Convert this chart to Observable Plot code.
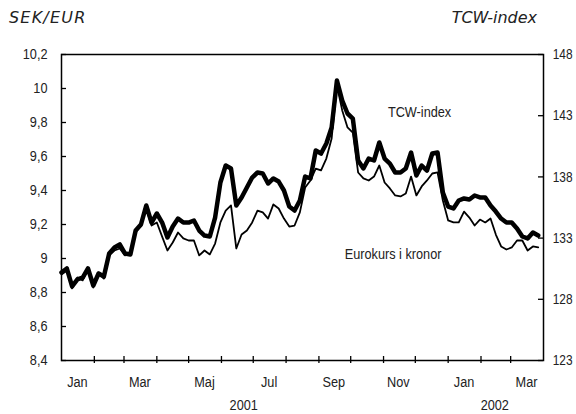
<!DOCTYPE html>
<html><head><meta charset="utf-8">
<script src="https://cdn.jsdelivr.net/npm/d3@7"></script>
<script src="https://cdn.jsdelivr.net/npm/@observablehq/plot@0.6"></script>
<style>
body{margin:0;background:#fff;width:576px;height:414px;overflow:hidden;position:relative;}
.t{position:absolute;top:8px;font-family:"DejaVu Sans",sans-serif;font-style:italic;font-size:16px;color:#222;white-space:nowrap;}
#chart{position:absolute;top:40px;left:0;}
</style></head><body>
<div class="t" style="left:9px;letter-spacing:1.2px">SEK/EUR</div>
<div class="t" style="right:39px">TCW-index</div>
<div id="chart"></div>
<script>
const dates = [
"2001-01-01","2001-01-06","2001-01-11","2001-01-16","2001-01-21","2001-01-26","2001-01-31","2001-02-05","2001-02-10","2001-02-15",
"2001-02-20","2001-02-25","2001-03-02","2001-03-07","2001-03-12","2001-03-17","2001-03-22","2001-03-27","2001-04-01","2001-04-06",
"2001-04-11","2001-04-16","2001-04-21","2001-04-26","2001-05-01","2001-05-06","2001-05-11","2001-05-16","2001-05-21","2001-05-26",
"2001-05-31","2001-06-05","2001-06-10","2001-06-15","2001-06-20","2001-06-25","2001-06-30","2001-07-05","2001-07-10","2001-07-15",
"2001-07-20","2001-07-25","2001-07-30","2001-08-04","2001-08-09","2001-08-14","2001-08-19","2001-08-24","2001-08-29","2001-09-03",
"2001-09-08","2001-09-13","2001-09-18","2001-09-23","2001-09-28","2001-10-03","2001-10-08","2001-10-13","2001-10-18","2001-10-23",
"2001-10-28","2001-11-02","2001-11-07","2001-11-12","2001-11-17","2001-11-22","2001-11-27","2001-12-02","2001-12-07","2001-12-12",
"2001-12-17","2001-12-22","2001-12-27","2002-01-01","2002-01-06","2002-01-11","2002-01-16","2002-01-21","2002-01-26","2002-01-31",
"2002-02-05","2002-02-10","2002-02-15","2002-02-20","2002-02-25","2002-03-02","2002-03-07","2002-03-12","2002-03-17","2002-03-22",
"2002-03-27"];
const tcwIndex = [
130.19,130.52,129.05,129.62,129.78,130.52,129.13,130.11,129.86,131.74,
132.23,132.48,131.74,131.66,133.62,134.11,135.66,134.27,135.01,134.27,
133.05,133.95,134.60,134.27,134.27,134.44,133.62,133.21,133.13,134.68,
137.54,138.93,138.69,135.66,136.32,137.13,137.95,138.36,138.28,137.46,
137.87,137.62,136.89,135.58,135.25,136.07,138.03,137.87,140.16,139.91,
140.73,142.04,145.88,144.24,143.18,142.77,139.34,138.69,139.50,139.34,
140.81,139.50,139.09,138.36,138.36,138.69,139.99,138.11,138.93,138.52,
139.91,139.99,136.73,135.58,135.42,136.07,136.24,136.15,136.48,136.32,
136.32,135.66,135.17,134.60,134.27,134.27,133.78,133.13,132.97,133.46,
133.21];
const eurSek = [
8.906,8.929,8.824,8.888,8.871,8.941,8.829,8.918,8.882,9.018,
9.047,9.059,9.018,9.035,9.153,9.200,9.294,9.194,9.212,9.129,
9.047,9.094,9.153,9.118,9.106,9.106,9.018,9.047,9.024,9.088,
9.212,9.282,9.312,9.059,9.141,9.165,9.212,9.282,9.271,9.235,
9.318,9.294,9.235,9.188,9.194,9.271,9.418,9.459,9.529,9.518,
9.588,9.706,10.018,9.871,9.771,9.741,9.506,9.471,9.459,9.482,
9.547,9.447,9.412,9.371,9.365,9.382,9.482,9.371,9.424,9.459,
9.500,9.506,9.341,9.224,9.212,9.212,9.276,9.241,9.194,9.229,
9.212,9.235,9.141,9.071,9.053,9.065,9.106,9.106,9.047,9.071,
9.065];
const sekTicks = [8.4, 8.6, 8.8, 9, 9.2, 9.4, 9.6, 9.8, 10, 10.2];
const tcwTicks = [123, 128, 133, 138, 143, 148];
const monthLabels = ["Jan","Mar","Maj","Jul","Sep","Nov","Jan","Mar"];
const monthLabelDates = ["2001-01-16","2001-03-16","2001-05-16","2001-07-16","2001-09-15","2001-11-15","2002-01-16","2002-03-16"];
const monthBoundaries = ["2001-02-01","2001-03-01","2001-04-01","2001-05-01","2001-06-01","2001-07-01","2001-08-01","2001-09-01","2001-10-01","2001-11-01","2001-12-01","2002-01-01","2002-02-01","2002-03-01"];
const yearLabels = ["2001","2002"];
const yearLabelDates = ["2001-06-22","2002-02-14"];
const seriesLabels = ["TCW-index","Eurokurs i kronor"];
const seriesLabelDates = ["2001-12-05","2001-11-10"];
const seriesLabelValues = [9.859, 9.029];

const sekMin = 8.4, sekMax = 10.2, tcwMin = 123, tcwMax = 148;
const tcwToSek = t => sekMin + (t - tcwMin) * (sekMax - sekMin) / (tcwMax - tcwMin);

const rows = dates.map((d, i) => ({date: new Date(d), tcw: tcwToSek(tcwIndex[i]), eur: eurSek[i]}));
const months = monthLabels.map((m, i) => ({date: new Date(monthLabelDates[i]), label: m}));
const years = yearLabels.map((y, i) => ({date: new Date(yearLabelDates[i]), label: y}));
const notes = seriesLabels.map((s, i) => ({date: new Date(seriesLabelDates[i]), v: seriesLabelValues[i], label: s}));
const rightTicks = tcwTicks.map(t => ({v: tcwToSek(t), label: String(t)}));

const W = 576, H = 374, mL = 61, mR = 33, mT = 14, mB = 54;
const pw = W - mL - mR, ph = H - mT - mB;
const font = '"Liberation Sans", Arial, sans-serif';

const chart = Plot.plot({
  width: W, height: H,
  marginLeft: mL, marginRight: mR, marginTop: mT, marginBottom: mB,
  style: {fontFamily: font, fontSize: "15.5px", color: "#222", background: "white", overflow: "visible"},
  x: {type: "utc", domain: [new Date("2001-01-01"), new Date("2002-04-01")], axis: null},
  y: {domain: [sekMin, sekMax], axis: null},
  marks: [
    Plot.lineY(rows, {x: "date", y: "tcw", stroke: "black", strokeWidth: 4.5, strokeLinejoin: "round", strokeLinecap: "round"}),
    Plot.lineY(rows, {x: "date", y: "eur", stroke: "black", strokeWidth: 1.8, strokeLinejoin: "round"}),
    Plot.frame({stroke: "black", strokeWidth: 1.5}),
    Plot.tickY(sekTicks, {y: d => d, insetRight: pw - 5, stroke: "black", strokeWidth: 1.3}),
    Plot.tickY(tcwTicks.map(tcwToSek), {y: d => d, insetLeft: pw - 5, stroke: "black", strokeWidth: 1.3}),
    Plot.tickX(monthBoundaries, {x: d => new Date(d), insetTop: ph - 4, insetBottom: -3, stroke: "black", strokeWidth: 1.3}),
    Plot.axisY(sekTicks, {anchor: "left", tickSize: 0, tickPadding: 14, tickFormat: d => String(d).replace(".", ","), fill: "#222"}),
    Plot.text(rightTicks, {y: "v", text: "label", frameAnchor: "right", dx: 29, textAnchor: "end", lineAnchor: "middle", fontSize: 14.5, fill: "#222"}),
    Plot.text(months, {x: "date", text: "label", frameAnchor: "bottom", dy: 22, lineAnchor: "middle", fill: "#222"}),
    Plot.text(years, {x: "date", text: "label", frameAnchor: "bottom", dy: 45, lineAnchor: "middle", fill: "#222"}),
    Plot.text(notes, {x: "date", y: "v", text: "label", lineAnchor: "middle", fill: "#222"})
  ]
});
document.getElementById("chart").appendChild(chart);
// emulate a narrow (condensed) face: squeeze each label to 82% of its width
chart.querySelectorAll("text").forEach(el => {
  const len = el.getComputedTextLength();
  if (len > 0) {
    el.setAttribute("textLength", (len * 0.82).toFixed(2));
    el.setAttribute("lengthAdjust", "spacingAndGlyphs");
  }
});
</script>
</body></html>
